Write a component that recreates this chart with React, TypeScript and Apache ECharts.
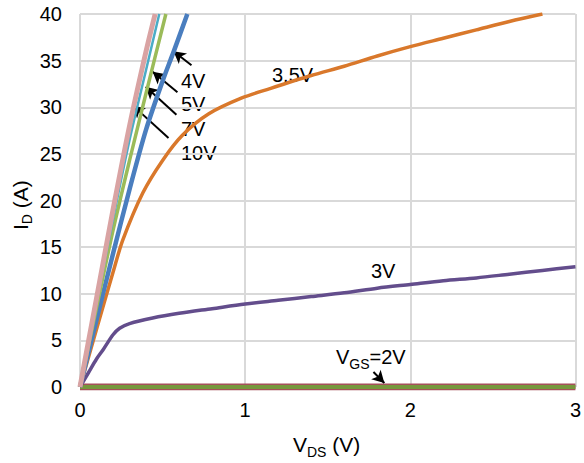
import React, { useEffect, useRef } from "react";
import * as echarts from "echarts";

// Output characteristics: drain current I_D (A) vs drain-source voltage V_DS (V)
const vgs10V: [number, number][] = [
  [0, 0], [0.1, 9.5], [0.2, 19], [0.3, 28], [0.4, 36], [0.455, 40],
];
const vgs7V: [number, number][] = [
  [0, 0], [0.1, 9], [0.2, 18], [0.3, 26.5], [0.4, 34], [0.48, 40],
];
const vgs5V: [number, number][] = [
  [0, 0], [0.1, 8.5], [0.2, 16.8], [0.3, 24.3], [0.4, 31.5], [0.52, 40],
];
const vgs4V: [number, number][] = [
  [0, 0], [0.1, 7.2], [0.2, 14.3], [0.3, 21.2], [0.4, 27.6], [0.5, 32.8], [0.57, 36.1], [0.65, 40],
];
const vgs3_5V: [number, number][] = [
  [0, 0], [0.1, 6.2], [0.2, 12.3], [0.26, 15.8], [0.38, 20.8], [0.5, 24.3], [0.62, 27.0],
  [0.78, 29.3], [0.98, 31.0], [1.15, 32.0], [1.4, 33.4], [1.6, 34.4], [1.8, 35.5],
  [2.0, 36.5], [2.2, 37.4], [2.4, 38.3], [2.6, 39.2], [2.8, 40],
];
const vgs3V: [number, number][] = [
  [0, 0], [0.05, 1.5], [0.1, 3], [0.14, 4], [0.2, 5.6], [0.24, 6.3], [0.3, 6.8], [0.44, 7.4],
  [0.6, 7.9], [0.8, 8.4], [1.0, 8.9], [1.2, 9.3], [1.4, 9.7], [1.6, 10.1], [1.8, 10.6],
  [2.0, 11.0], [2.2, 11.4], [2.4, 11.7], [2.6, 12.1], [2.8, 12.5], [3.0, 12.9],
];
const vgs2V: [number, number][] = [[0, 0], [3, 0]];

const xMax = 3;
const yMax = 40;
const yStep = 5;

// Annotation arrows: [from, to] in data coordinates
const arrows: [[number, number], [number, number]][] = [
  [[0.675, 34.5], [0.566, 36.0]],
  [[0.59, 31.6], [0.44, 33.8]],
  [[0.584, 29.2], [0.398, 32.2]],
  [[0.536, 26.7], [0.319, 30.2]],
  [[1.777, 1.61], [1.843, 0.43]],
];

const FONT = "'Liberation Sans', Arial, sans-serif";

const subRich = (size: number, sub: number) => ({
  b: { fontFamily: FONT, fontSize: size, lineHeight: 28, fill: "#000", color: "#000" },
  s: { fontFamily: FONT, fontSize: sub, lineHeight: 10, verticalAlign: "bottom", fill: "#000", color: "#000" },
});

export default function App() {
  const ref = useRef<HTMLDivElement>(null);

  useEffect(() => {
    if (!ref.current) return;
    const chart = echarts.init(ref.current, undefined, { renderer: "svg" });

    const line = (name: string, data: [number, number][], color: string, width: number, z: number) => ({
      name,
      type: "line",
      data,
      smooth: 0.3,
      showSymbol: false,
      symbol: "none",
      z,
      lineStyle: { color, width },
      itemStyle: { color },
    });

    const textStyle = { fontFamily: FONT, fontSize: 20, fill: "#000" };

    chart.setOption({
      animation: false,
      backgroundColor: "#fff",
      grid: { left: 80, right: 6, top: 14, bottom: 76, containLabel: false },
      xAxis: {
        type: "value",
        min: 0,
        max: xMax,
        interval: 1,
        axisLine: { show: false },
        axisTick: { show: false },
        axisLabel: { fontFamily: FONT, fontSize: 20, color: "#000", margin: 13 },
        splitLine: { show: true, lineStyle: { color: "#d9d9d9", width: 2 } },
      },
      yAxis: {
        type: "value",
        min: 0,
        max: yMax,
        interval: yStep,
        axisLine: { show: false },
        axisTick: { show: false },
        axisLabel: { fontFamily: FONT, fontSize: 20, color: "#000", margin: 18 },
        splitLine: { show: true, lineStyle: { color: "#d9d9d9", width: 2 } },
      },
      series: [
        line("2V base", vgs2V, "#a5505a", 7, 2),
        line("V_GS=2V", vgs2V, "#77973c", 4, 3),
        line("3V", vgs3V, "#634d8c", 3.5, 4),
        line("3.5V", vgs3_5V, "#d9782b", 3.5, 5),
        line("4V", vgs4V, "#4a7ebf", 4.5, 6),
        line("5V", vgs5V, "#9bbb59", 3.5, 7),
        line("7V", vgs7V, "#4bacc6", 2.5, 8),
        line("10V", vgs10V, "#d9a3a3", 5, 9),
        {
          name: "arrows",
          type: "line",
          data: [],
          z: 10,
          markLine: {
            silent: true,
            symbol: ["none", "arrow"],
            symbolSize: [10, 12],
            label: { show: false },
            lineStyle: { color: "#000", width: 2, type: "solid" },
            data: arrows.map(([a, b]) => [{ coord: a }, { coord: b }]),
          },
        },
      ],
      graphic: [
        { type: "text", left: 181, top: 71, style: { ...textStyle, text: "4V" } },
        { type: "text", left: 181, top: 94, style: { ...textStyle, text: "5V" } },
        { type: "text", left: 181, top: 119, style: { ...textStyle, text: "7V" } },
        { type: "text", left: 181, top: 143, style: { ...textStyle, text: "10V" } },
        { type: "text", left: 272, top: 65, style: { ...textStyle, text: "3.5V" } },
        { type: "text", left: 371, top: 261, style: { ...textStyle, text: "3V" } },
        {
          type: "text",
          left: 336,
          top: 347,
          style: { text: "{b|V}{s|GS}{b|=2V}", rich: subRich(20, 14) },
        },
        {
          type: "text",
          left: 293,
          top: 434,
          style: { text: "{b|V}{s|DS}{b| (V)}", rich: subRich(21, 14) },
        },
        {
          type: "text",
          x: 6,
          y: 230,
          rotation: Math.PI / 2,
          style: { text: "{b|I}{s|D}{b| (A)}", rich: subRich(21, 14) },
        },
      ],
    });

    return () => chart.dispose();
  }, []);

  return <div ref={ref} style={{ width: 584, height: 463, position: "absolute", left: 0, top: 0 }} />;
}
